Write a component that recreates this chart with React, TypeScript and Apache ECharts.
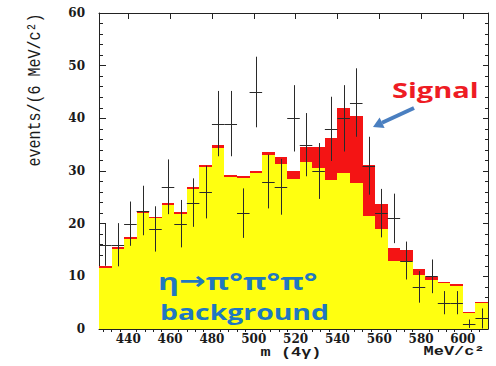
import React, { useEffect, useRef } from 'react';
import * as echarts from 'echarts';

// Histogram bins (lower edges, MeV/c^2), 6 MeV wide
const binLow = [426, 432, 438, 444, 450, 456, 462, 468, 474, 480, 486, 492, 498, 504, 510, 516, 522, 528, 534, 540, 546, 552, 558, 564, 570, 576, 582, 588, 594, 600, 606];
const BIN_WIDTH = 6;

// eta -> 3pi0 background (yellow)
const background = [11.6, 15.2, 17.0, 22.1, 21.0, 23.6, 21.8, 26.6, 30.7, 34.3, 28.9, 28.7, 29.6, 33.0, 31.3, 28.4, 31.8, 30.5, 28.3, 29.6, 27.7, 21.5, 18.9, 13.0, 12.9, 10.3, 9.3, 8.7, 8.2, 3.1, 4.9];
// signal stacked on top (red)
const signal = [0.4, 0.4, 0.5, 0.4, 0.3, 0.4, 0.4, 0.4, 0.4, 0.6, 0.3, 0.3, 0.4, 0.7, 1.3, 1.6, 2.8, 4.1, 8.0, 12.4, 12.7, 9.7, 4.8, 2.3, 2.1, 1.0, 0.6, 0.3, 0.3, 0.2, 0.3];
// data points with error bars
const dataCounts = [16, 16, 20, 22.5, 19, 27, 20, 24, 26, 39, 39, 22, 45, 28, 27, 40, 35, 30, 38, 40, 43, 31, 22, 21, 13, 8, 10, 5, 5, 1, 2];
const dataErrors = [4.0, 4.1, 4.2, 4.7, 4.3, 5.2, 4.5, 4.6, 5.0, 6.2, 6.2, 4.7, 6.7, 5.1, 5.3, 6.3, 6.0, 5.3, 6.1, 6.3, 6.5, 5.5, 4.6, 4.7, 3.6, 3.0, 3.2, 2.2, 2.2, 0.8, 1.9];

// axis ticks
const xMajorTicks = [440, 460, 480, 500, 520, 540, 560, 580, 600];
const xMinorTicks = [428, 432, 436, 444, 448, 452, 456, 464, 468, 472, 476, 484, 488, 492, 496, 504, 508, 512, 516, 524, 528, 532, 536, 544, 548, 552, 556, 564, 568, 572, 576, 584, 588, 592, 596, 604, 608];
const X_MIN = 426;
const X_MAX = 612;
const Y_MIN = 0;
const Y_MAX = 60;

const AXIS_COLOR = '#222';
const YELLOW = '#ffff10';
const RED = '#f41414';
const BLUE = '#1f78c0';

export default function App() {
  const ref = useRef<HTMLDivElement>(null);

  useEffect(() => {
    if (!ref.current) return;
    const chart = echarts.init(ref.current, null, { renderer: 'svg' });

    const bgData = binLow.map((lo, i) => [lo, lo + BIN_WIDTH, 0, background[i]]);
    const sigData = binLow.map((lo, i) => [lo, lo + BIN_WIDTH, background[i], background[i] + signal[i]]);
    const ptData = binLow.map((lo, i) => [lo, lo + BIN_WIDTH, dataCounts[i], dataErrors[i]]);

    const rectItem = (color: string) => (params: any, api: any) => {
      const p0 = api.coord([api.value(0), api.value(2)]);
      const p1 = api.coord([api.value(1), api.value(3)]);
      const x0 = Math.round(p0[0]);
      const x1 = Math.round(p1[0]);
      const yb = Math.round(p0[1]);
      const yt = Math.round(p1[1]);
      return {
        type: 'rect',
        shape: { x: x0, y: yt, width: x1 - x0, height: Math.max(1, yb - yt) },
        style: { fill: color },
      };
    };

    const crossItem = (params: any, api: any) => {
      const lo = api.value(0);
      const hi = api.value(1);
      const v = api.value(2);
      const e = api.value(3);
      const mid = (lo + hi) / 2;
      const l = api.coord([lo, v]);
      const r = api.coord([hi, v]);
      const t = api.coord([mid, v + e]);
      const b = api.coord([mid, Math.max(0, v - e)]);
      const cx = Math.round(t[0]) + 0.5;
      const cy = Math.round(l[1]) + 0.5;
      const st = { stroke: '#2a2a2a', lineWidth: 1 };
      return {
        type: 'group',
        children: [
          { type: 'line', shape: { x1: l[0], y1: cy, x2: r[0], y2: cy }, style: st },
          { type: 'line', shape: { x1: cx, y1: t[1], x2: cx, y2: b[1] }, style: st },
        ],
      };
    };

    const labelFont = { fontFamily: 'DejaVu Serif', fontWeight: 'bold' as const, fontSize: 12, color: '#1a1a1a' };

    const baseX = {
      type: 'value' as const,
      min: X_MIN,
      max: X_MAX,
      splitLine: { show: false },
      axisLine: { show: true, onZero: false, lineStyle: { color: AXIS_COLOR, width: 1 } },
    };

    const baseY = {
      type: 'value' as const,
      min: Y_MIN,
      max: Y_MAX,
      interval: 10,
      splitLine: { show: false },
      minorSplitLine: { show: false },
      axisLine: { show: true, onZero: false, lineStyle: { color: AXIS_COLOR, width: 1 } },
    };

    chart.setOption({
      animation: false,
      backgroundColor: '#ffffff',
      grid: { left: 99, right: 8, top: 13, bottom: 37, containLabel: false, outerBoundsMode: 'none' },
      xAxis: [
        {
          ...baseX,
          position: 'bottom',
          axisTick: { show: true, inside: true, length: 6, customValues: xMajorTicks, lineStyle: { color: AXIS_COLOR } },
          axisLabel: { ...labelFont, margin: 4, customValues: xMajorTicks },
        },
        {
          ...baseX,
          position: 'top',
          axisTick: { show: true, inside: true, length: 6, customValues: xMajorTicks, lineStyle: { color: AXIS_COLOR } },
          axisLabel: { show: false },
        },
        {
          ...baseX,
          position: 'bottom',
          axisLine: { show: false },
          axisTick: { show: true, inside: true, length: 3, customValues: xMinorTicks, lineStyle: { color: AXIS_COLOR } },
          axisLabel: { show: false },
        },
        {
          ...baseX,
          position: 'top',
          axisLine: { show: false },
          axisTick: { show: true, inside: true, length: 3, customValues: xMinorTicks, lineStyle: { color: AXIS_COLOR } },
          axisLabel: { show: false },
        },
      ],
      yAxis: [
        {
          ...baseY,
          position: 'left',
          axisTick: { show: true, inside: true, length: 7, lineStyle: { color: AXIS_COLOR } },
          minorTick: { show: true, splitNumber: 5, length: 4, lineStyle: { color: AXIS_COLOR } },
          axisLabel: { ...labelFont, margin: 14 },
        },
        {
          ...baseY,
          position: 'right',
          axisTick: { show: true, inside: true, length: 5, lineStyle: { color: AXIS_COLOR } },
          minorTick: { show: true, splitNumber: 5, length: 3, lineStyle: { color: AXIS_COLOR } },
          axisLabel: { show: false },
        },
      ],
      series: [
        {
          name: 'background',
          type: 'custom',
          xAxisIndex: 0,
          yAxisIndex: 0,
          renderItem: rectItem(YELLOW),
          encode: { x: [0, 1], y: [2, 3] },
          data: bgData,
          z: 1,
        },
        {
          name: 'signal',
          type: 'custom',
          xAxisIndex: 0,
          yAxisIndex: 0,
          renderItem: rectItem(RED),
          encode: { x: [0, 1], y: [2, 3] },
          data: sigData,
          z: 2,
        },
        {
          name: 'data',
          type: 'custom',
          xAxisIndex: 0,
          yAxisIndex: 0,
          renderItem: crossItem,
          encode: { x: [0, 1], y: 2 },
          data: ptData,
          z: 3,
        },
      ],
      graphic: [
        {
          type: 'text',
          x: 35,
          y: 90,
          rotation: Math.PI / 2,
          scaleY: 1.25,
          style: {
            text: 'events/(6 MeV/c²)',
            font: '15px "Liberation Mono"',
            fill: '#1a1a1a',
            align: 'center',
            verticalAlign: 'middle',
            textAlign: 'center',
            textVerticalAlign: 'middle',
          },
        },
        {
          type: 'text',
          x: 291,
          y: 353,
          scaleX: 1.3,
          style: {
            text: 'm (4γ)',
            font: 'bold 13px "Liberation Mono"',
            fill: '#1a1a1a',
            align: 'center',
            verticalAlign: 'middle',
            textAlign: 'center',
            textVerticalAlign: 'middle',
          },
        },
        {
          type: 'text',
          x: 454,
          y: 352,
          scaleX: 1.3,
          style: {
            text: 'MeV/c²',
            font: 'bold 13px "Liberation Mono"',
            fill: '#1a1a1a',
            align: 'center',
            verticalAlign: 'middle',
            textAlign: 'center',
            textVerticalAlign: 'middle',
          },
        },
        {
          type: 'text',
          x: 392,
          y: 90,
          scaleX: 1.38,
          z: 10,
          style: {
            text: 'Signal',
            font: 'bold 21px "Open Sans"',
            fill: '#ee1c24',
            align: 'left',
            verticalAlign: 'middle',
            textAlign: 'left',
            textVerticalAlign: 'middle',
          },
        },
        {
          type: 'line',
          z: 10,
          shape: { x1: 414, y1: 108, x2: 382, y2: 122.8 },
          style: { stroke: '#4a7fc0', lineWidth: 4 },
        },
        {
          type: 'polygon',
          z: 10,
          shape: { points: [[373, 127], [384.6, 128], [379.6, 117.5]] },
          style: { fill: '#4a7fc0' },
        },
        {
          type: 'text',
          x: 158,
          y: 281,
          scaleX: 1.33,
          z: 10,
          style: {
            text: '{a|η}{b|→}{a|π°π°π°}',
            fill: BLUE,
            align: 'left',
            verticalAlign: 'middle',
            textAlign: 'left',
            textVerticalAlign: 'middle',
            rich: {
              a: { fontFamily: 'Open Sans', fontWeight: 'bold', fontSize: 24, fill: BLUE, color: BLUE },
              b: { fontFamily: 'DejaVu Sans', fontWeight: 'bold', fontSize: 24, fill: BLUE, color: BLUE },
            },
          },
        },
        {
          type: 'text',
          x: 160,
          y: 311,
          scaleX: 1.29,
          z: 10,
          style: {
            text: 'background',
            font: 'bold 22px "Open Sans"',
            fill: BLUE,
            align: 'left',
            verticalAlign: 'middle',
            textAlign: 'left',
            textVerticalAlign: 'middle',
          },
        },
      ],
    });

    return () => {
      chart.dispose();
    };
  }, []);

  return (
    <div
      ref={ref}
      style={{ position: 'fixed', left: 0, top: 0, width: 496, height: 366, background: '#fff' }}
    />
  );
}
